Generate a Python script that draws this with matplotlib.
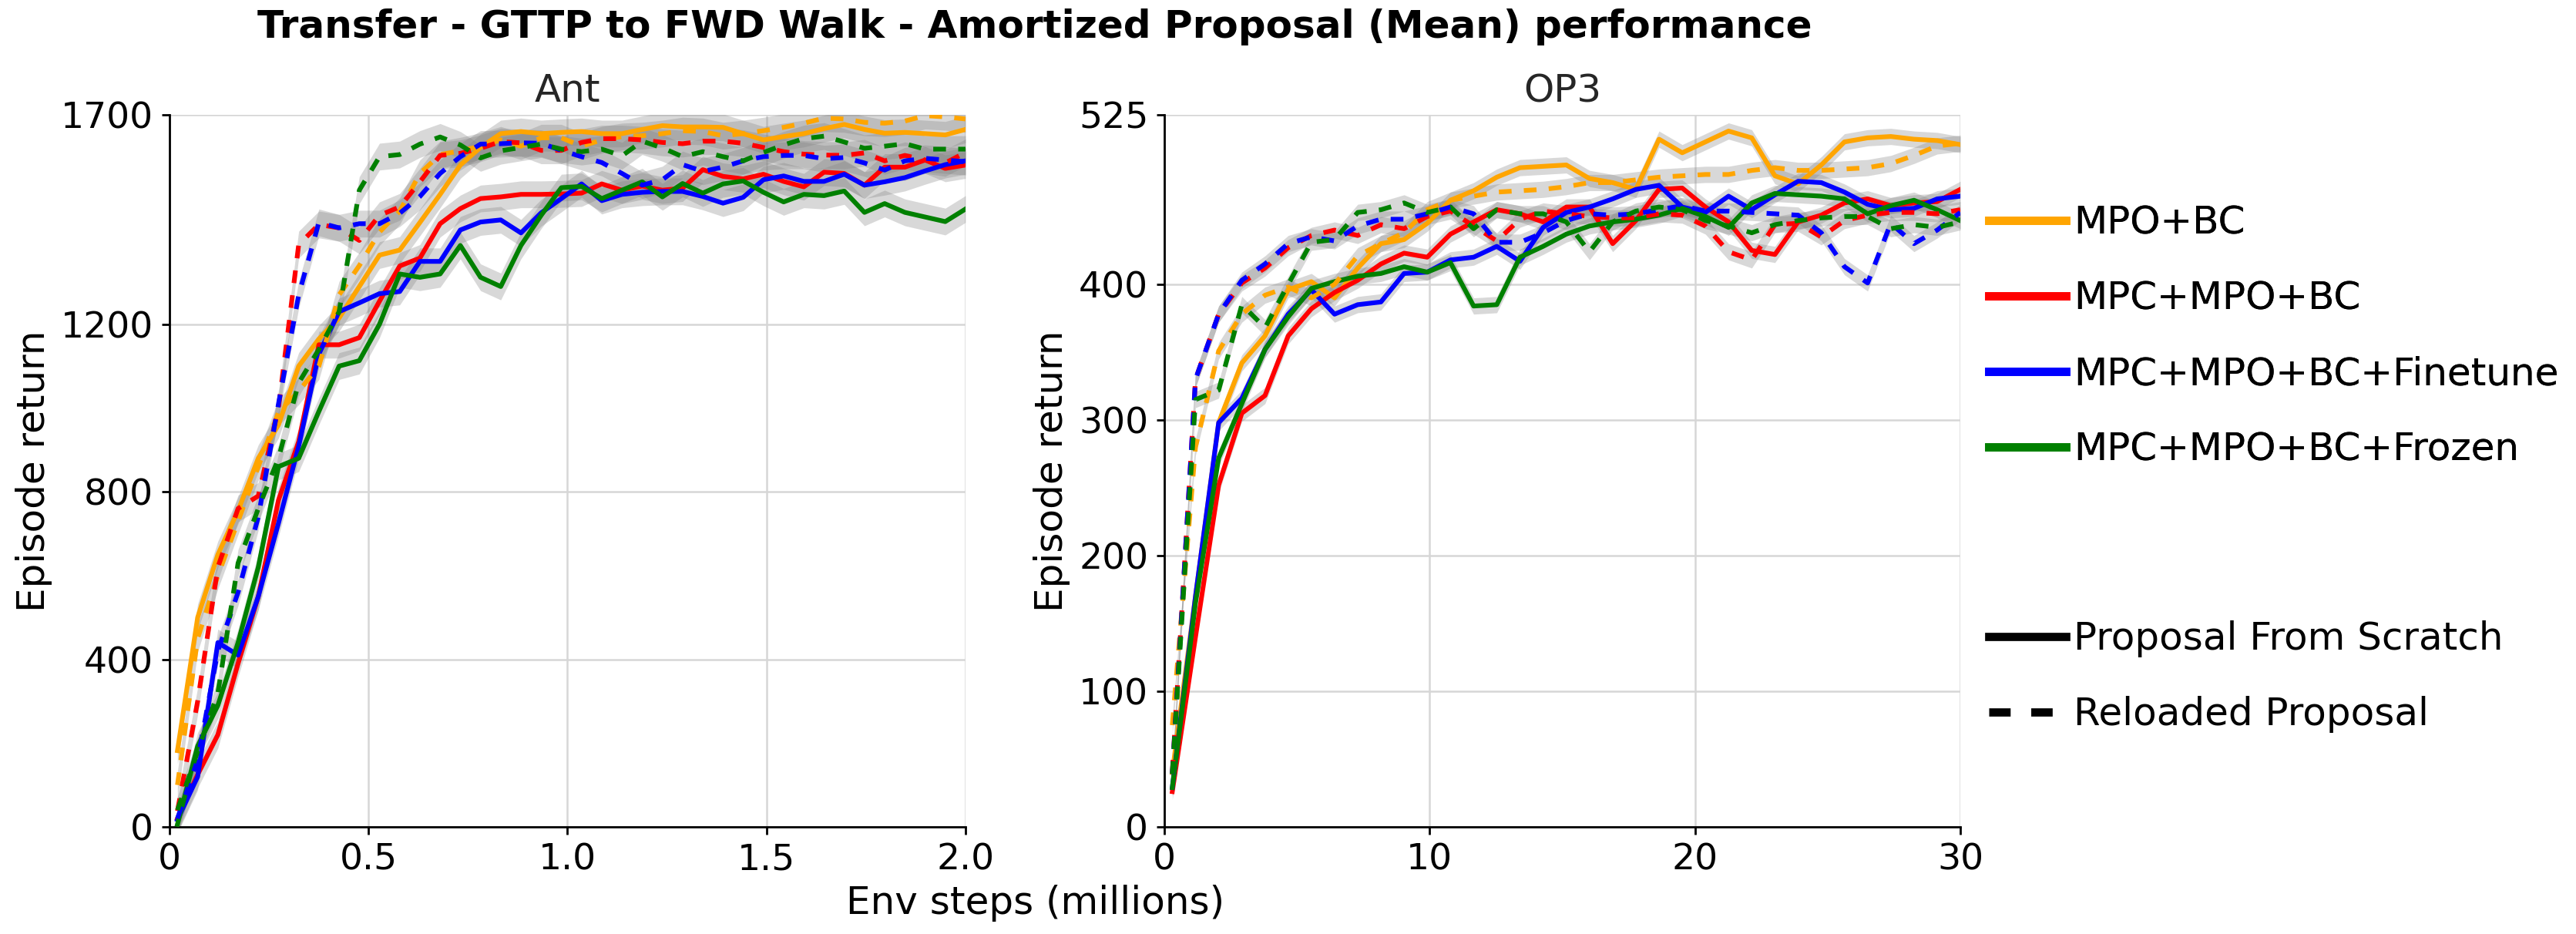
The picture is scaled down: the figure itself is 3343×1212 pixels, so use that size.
import numpy as np
import matplotlib
matplotlib.use('Agg')
import matplotlib.pyplot as plt
from matplotlib.lines import Line2D

# env steps (millions)
x_ant = np.linspace(0.02, 2.0, 40)
x_op3 = np.linspace(0.3, 30, 35)

# Ant, proposal from scratch
ant_mpo_s = [182, 500, 650, 755, 880, 960, 1100, 1165, 1215, 1290,
             1365, 1377, 1443, 1510, 1580, 1622, 1655, 1660, 1655, 1658,
             1660, 1655, 1655, 1665, 1674, 1671, 1671, 1670, 1655, 1640,
             1648, 1655, 1667, 1677, 1665, 1656, 1658, 1655, 1652, 1665]
ant_mpc_s = [20, 125, 220, 390, 550, 780, 920, 1151, 1151, 1168,
             1255, 1339, 1358, 1440, 1476, 1500, 1504, 1510, 1510, 1511,
             1513, 1535, 1520, 1530, 1520, 1525, 1569, 1553, 1547, 1558,
             1541, 1528, 1563, 1560, 1532, 1575, 1575, 1592, 1572, 1580]
ant_fine_s = [17, 120, 440, 410, 550, 725, 909, 1129, 1230, 1251,
              1273, 1278, 1350, 1350, 1425, 1444, 1449, 1418, 1466, 1500,
              1535, 1495, 1510, 1515, 1517, 1517, 1505, 1489, 1503, 1545,
              1554, 1541, 1541, 1558, 1532, 1540, 1550, 1566, 1581, 1590]
ant_froz_s = [6, 193, 290, 440, 620, 860, 880, 992, 1100, 1113,
              1200, 1320, 1312, 1320, 1388, 1312, 1290, 1388, 1460, 1526,
              1529, 1500, 1520, 1540, 1504, 1536, 1513, 1535, 1542, 1515,
              1492, 1510, 1507, 1518, 1467, 1488, 1467, 1456, 1445, 1475]
# Ant, reloaded proposal
ant_mpo_r = [100, 450, 600, 730, 860, 990, 1040, 1100, 1270, 1340,
             1420, 1470, 1560, 1605, 1614, 1625, 1640, 1625, 1645, 1645,
             1625, 1640, 1648, 1650, 1655, 1662, 1660, 1650, 1655, 1662,
             1670, 1680, 1692, 1690, 1682, 1680, 1685, 1698, 1695, 1690]
ant_mpc_r = [38, 300, 620, 760, 790, 1000, 1390, 1438, 1430, 1400,
             1460, 1480, 1540, 1603, 1608, 1620, 1636, 1633, 1615, 1615,
             1634, 1643, 1643, 1640, 1634, 1631, 1637, 1637, 1632, 1622,
             1612, 1606, 1604, 1603, 1609, 1590, 1603, 1592, 1585, 1610]
ant_fine_r = [20, 160, 420, 560, 740, 1010, 1270, 1443, 1430, 1440,
              1440, 1465, 1505, 1560, 1600, 1630, 1631, 1633, 1632, 1615,
              1600, 1586, 1560, 1532, 1545, 1581, 1565, 1575, 1590, 1600,
              1603, 1603, 1595, 1598, 1585, 1568, 1590, 1596, 1592, 1588]
ant_froz_r = [40, 180, 320, 630, 760, 880, 1060, 1140, 1230, 1520,
              1600, 1605, 1630, 1647, 1628, 1597, 1614, 1622, 1630, 1618,
              1612, 1618, 1602, 1637, 1621, 1600, 1612, 1600, 1590, 1610,
              1628, 1643, 1649, 1635, 1620, 1625, 1631, 1618, 1618, 1618]

# OP3, proposal from scratch
op3_mpo_s = [40, 170, 298, 342, 362, 396, 402, 390, 412, 430,
             433, 445, 462, 469, 479, 486, 487, 488, 478, 475,
             470, 507, 497, 505, 513, 508, 480, 474, 488, 505,
             508, 509, 507, 506, 503]
op3_mpc_s = [26, 140, 252, 305, 318, 362, 382, 394, 403, 415,
             423, 420, 437, 446, 455, 452, 446, 457, 457, 430,
             447, 470, 471, 457, 446, 425, 422, 446, 451, 460,
             463, 458, 460, 461, 470]
op3_fine_s = [29, 170, 298, 316, 352, 378, 396, 378, 385, 387,
              408, 409, 418, 420, 428, 417, 442, 453, 457, 463,
              470, 473, 457, 453, 465, 455, 466, 476, 475, 468,
              459, 455, 456, 463, 465]
op3_froz_s = [29, 165, 272, 312, 352, 376, 397, 402, 406, 408,
              413, 409, 416, 384, 385, 420, 428, 437, 443, 446,
              448, 451, 456, 450, 442, 460, 467, 466, 465, 463,
              452, 458, 462, 455, 447]
# OP3, reloaded proposal
op3_mpo_r = [75, 280, 351, 378, 392, 398, 390, 400, 421, 430,
             438, 455, 462, 465, 468, 469, 470, 472, 475, 475,
             477, 479, 480, 481, 481, 484, 486, 484, 484, 485,
             486, 489, 495, 502, 504]
op3_mpc_r = [40, 330, 378, 401, 412, 427, 436, 440, 436, 444,
             441, 450, 454, 443, 432, 448, 454, 452, 450, 449,
             449, 452, 451, 443, 424, 418, 444, 445, 435, 447,
             451, 453, 453, 452, 455]
op3_fine_r = [39, 330, 378, 403, 415, 430, 435, 432, 443, 448,
              448, 452, 457, 452, 431, 431, 438, 447, 452, 451,
              452, 455, 458, 454, 454, 453, 452, 451, 438, 413,
              401, 445, 430, 440, 453]
op3_froz_r = [39, 315, 322, 385, 368, 400, 431, 433, 453, 455,
              460, 453, 457, 441, 455, 452, 452, 446, 424, 446,
              454, 457, 455, 447, 443, 438, 444, 447, 449, 450,
              450, 441, 444, 442, 446]

ant_band = 32   # half width of the grey band
op3_band = 6

methods = ['MPO+BC', 'MPC+MPO+BC', 'MPC+MPO+BC+Finetune', 'MPC+MPO+BC+Frozen']
cols = ['orange', 'red', 'blue', 'green']

ant_scratch = [ant_mpo_s, ant_mpc_s, ant_fine_s, ant_froz_s]
ant_reload = [ant_mpo_r, ant_mpc_r, ant_fine_r, ant_froz_r]
op3_scratch = [op3_mpo_s, op3_mpc_s, op3_fine_s, op3_froz_s]
op3_reload = [op3_mpo_r, op3_mpc_r, op3_fine_r, op3_froz_r]

dash = (2.7, 2.6)
lw = 2.2


def draw(ax, x, scratch, reload, band):
    for ys, c in zip(scratch, cols):
        ys = np.array(ys, float)
        ax.fill_between(x, ys - band, ys + band, color='gray', alpha=0.3, lw=0, zorder=1)
        ax.plot(x, ys, color=c, lw=lw, zorder=3)
    for ys, c in zip(reload, cols):
        ys = np.array(ys, float)
        ax.fill_between(x, ys - band, ys + band, color='gray', alpha=0.3, lw=0, zorder=1)
        ax.plot(x, ys, color=c, lw=lw, dashes=dash, zorder=3)


def style(ax):
    ax.grid(True, color='#d6d6d6', lw=0.9)
    ax.set_axisbelow(True)
    for s in ['top', 'right']:
        ax.spines[s].set_visible(False)
    for s in ['left', 'bottom']:
        ax.spines[s].set_linewidth(1.0)
        ax.spines[s].set_color('black')
    ax.tick_params(labelsize=17, length=3.5, width=1.0, pad=4, colors='black')
    ax.set_ylabel('Episode return', fontsize=18)


fig = plt.figure(figsize=(3343 / 200, 1212 / 200), dpi=200)
ax1 = fig.add_axes([0.0658, 0.1147, 0.309, 0.7624])
ax2 = fig.add_axes([0.452, 0.1147, 0.309, 0.7624])

draw(ax1, x_ant, ant_scratch, ant_reload, ant_band)
draw(ax2, x_op3, op3_scratch, op3_reload, op3_band)

ax1.set_xlim(0, 2.0)
ax1.set_ylim(0, 1700)
ax1.set_xticks([0, 0.5, 1.0, 1.5, 2.0])
ax1.set_xticklabels(['0', '0.5', '1.0', '1.5', '2.0'])
ax1.set_yticks([0, 400, 800, 1200, 1700])
ax1.set_title('Ant', fontsize=18, color='#262626')

ax2.set_xlim(0, 30)
ax2.set_ylim(0, 525)
ax2.set_xticks([0, 10, 20, 30])
ax2.set_yticks([0, 100, 200, 300, 400, 525])
ax2.set_title('OP3', fontsize=18, color='#262626')

style(ax1)
style(ax2)

fig.text(0.4017, 0.971, 'Transfer - GTTP to FWD Walk - Amortized Proposal (Mean) performance',
         fontsize=18, fontweight='bold', ha='center', va='center')
fig.text(0.402, 0.033, 'Env steps (millions)', fontsize=18, ha='center', va='center')

# legends on the right
h1 = [Line2D([0], [0], color=c, lw=3.85) for c in cols]
leg1 = fig.legend(h1, methods, loc='center left', bbox_to_anchor=(0.766, 0.64),
                  frameon=False, fontsize=18, labelspacing=1.0, handlelength=2.0,
                  handletextpad=0.2, borderaxespad=0)
h2 = [Line2D([0], [0], color='black', lw=3.85),
      Line2D([0], [0], color='black', lw=3.85, dashes=(2.6, 2.5))]
leg2 = fig.legend(h2, ['Proposal From Scratch', 'Reloaded Proposal'], loc='center left',
                  bbox_to_anchor=(0.766, 0.2752), frameon=False, fontsize=18,
                  labelspacing=1.0, handlelength=2.0, handletextpad=0.2, borderaxespad=0)
fig.add_artist(leg1)

fig.savefig('out.png', dpi=200)
